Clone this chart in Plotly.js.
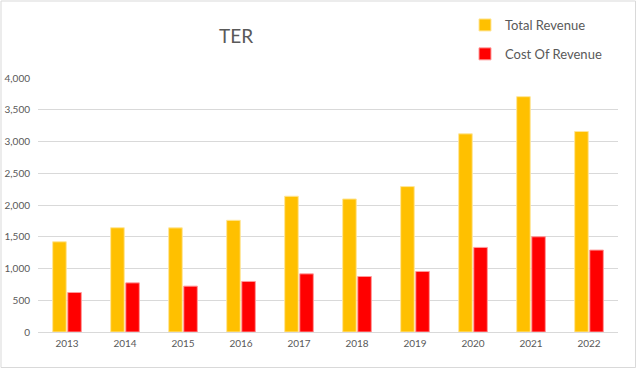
<!DOCTYPE html>
<html>
<head>
<meta charset="utf-8">
<script src="https://cdn.plot.ly/plotly-3.0.1.min.js"></script>
<style>html,body{margin:0;padding:0;background:#fff;}#chart{width:640px;height:370px;}</style>
</head>
<body>
<div id="chart"></div>
<script>
const years = ['2013','2014','2015','2016','2017','2018','2019','2020','2021','2022'];
const totalRevenue = [1421, 1642, 1640, 1759, 2138, 2095, 2290, 3121, 3706, 3158];
const costOfRevenue = [622, 774, 722, 796, 916, 874, 953, 1332, 1500, 1290];
const yTicks = [0, 500, 1000, 1500, 2000, 2500, 3000, 3500, 4000];
const yTickText = ['0', '500', '1,000', '1,500', '2,000', '2,500', '3,000', '3,500', '4,000'];

const W = 640, H = 370;
const L = 38, R = 22, T = 78, B = 38;
const pw = W - L - R, ph = H - T - B;
const px = v => (v - L) / pw;
const py = v => (H - B - v) / ph;

const font = 'Lato, "Open Sans", "Liberation Sans", sans-serif';

const traces = [
  {type: 'bar', name: 'Total Revenue', x: years, y: totalRevenue, legendgroup: 'a',
   marker: {color: '#ffc000', line: {color: '#ffe699', width: 1}}},
  {type: 'bar', name: 'Cost Of Revenue', x: years, y: costOfRevenue, legendgroup: 'b',
   marker: {color: '#ff0000', line: {color: '#ff9a9a', width: 1}}}
];

const layout = {
  width: W, height: H,
  margin: {l: L, r: R, t: T, b: B, pad: 0, autoexpand: false},
  paper_bgcolor: '#ffffff', plot_bgcolor: '#ffffff',
  font: {family: font, color: '#595959', size: 10},
  title: {text: 'TER', font: {family: font, size: 19, color: '#595959'},
          xref: 'paper', x: px(236), xanchor: 'center',
          yref: 'container', y: 1 - 36 / H, yanchor: 'middle'},
  barmode: 'group', bargap: 0.48, bargroupgap: 0.1,
  xaxis: {type: 'category', showgrid: false, zeroline: false, showline: false,
          ticks: '', tickfont: {size: 10, color: '#595959'}, ticklabelstandoff: 4, fixedrange: true},
  yaxis: {range: [0, 4000], tickvals: yTicks, ticktext: yTickText,
          showgrid: true, gridcolor: '#d9d9d9', gridwidth: 1, zeroline: true,
          zerolinecolor: '#d9d9d9', zerolinewidth: 1, showline: false, ticks: '',
          tickfont: {size: 10, color: '#595959'}, ticklabelstandoff: 7},
  showlegend: true,
  legend: {x: px(465), y: py(10), xanchor: 'left', yanchor: 'top',
           orientation: 'v', traceorder: 'grouped', tracegroupgap: 9,
           font: {family: font, size: 13, color: '#595959'}, bgcolor: 'rgba(0,0,0,0)'},
  shapes: [{type: 'rect', xref: 'paper', yref: 'paper',
            x0: px(1), x1: px(635.5), y0: py(367.5), y1: py(1),
            line: {color: '#d9d9d9', width: 1}, fillcolor: 'rgba(0,0,0,0)', layer: 'below'}]
};

Plotly.newPlot('chart', traces, layout, {displayModeBar: false, staticPlot: true});
</script>
</body>
</html>
